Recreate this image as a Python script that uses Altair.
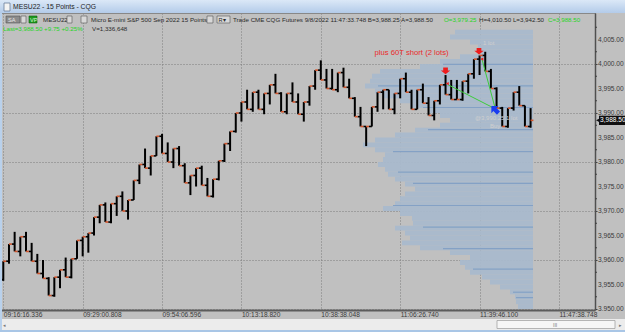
import altair as alt
import pandas as pd

# ---------------- data ----------------
highs = [3959.75, 3963.25, 3965.75, 3964.75, 3965.75, 3963.5, 3961.25, 3960, 3956.5, 3956.5,
         3958, 3960.5, 3960.25, 3964, 3964.75, 3965.5, 3968.75, 3971.25, 3971.75, 3971.5,
         3973, 3974, 3972.25, 3976.25, 3979.5, 3982.75, 3981.25, 3985.25, 3985.75, 3984,
         3982.75, 3983.25, 3979.75, 3977.25, 3978.75, 3979.25, 3976.75, 3976.5, 3980.25, 3983.75,
         3986.25, 3990, 3992.25, 3994.75, 3994.25, 3994.75, 3994, 3995.75, 3998, 3994.25,
         3994, 3996.25, 3994, 3992.25, 3995.5, 3998.75, 4000.75, 3999, 3999, 3998.25,
         3999.25, 3997, 3993.25, 3991.25, 3987.25, 3991.25, 3994.25, 3994.75, 3994.75, 3994,
         3997, 3998.25, 3994.75, 3994.75, 3996, 3993.25, 3992.5, 3995.75, 3997.75, 3996.75,
         3996.75, 3996.5, 3998, 4001, 4001.75, 4002.5, 3999, 3995.25, 3991.25, 3991,
         3994.25, 3995.5, 3991.5, 3991]
lows = [3955.75, 3959.25, 3961.75, 3960.75, 3961.75, 3959.75, 3957.25, 3956.25, 3952.75, 3952.5,
        3954.25, 3956.5, 3956.25, 3960.25, 3960.75, 3961.5, 3965, 3967.5, 3967.75, 3967.5,
        3969, 3970, 3968.25, 3972.25, 3975.5, 3978.75, 3977.25, 3981.25, 3981.75, 3980,
        3978.75, 3979.25, 3975.75, 3973.25, 3975, 3975.25, 3973, 3972.75, 3976.25, 3980,
        3982.25, 3986, 3988.25, 3990.75, 3990.25, 3990.75, 3989.75, 3991.75, 3994, 3990.25,
        3989.75, 3992.25, 3989.75, 3988.25, 3991.5, 3994.75, 3996.75, 3995, 3994.75, 3994.25,
        3995.25, 3993, 3989.25, 3987.25, 3983.25, 3987.25, 3990.25, 3990.75, 3990.75, 3989.75,
        3993, 3994.25, 3990.75, 3990.75, 3992, 3989.5, 3988.5, 3991.75, 3993.75, 3992.75,
        3992.75, 3992.5, 3994, 3997, 3997.75, 3998.5, 3995, 3991, 3987.25, 3987,
        3990.5, 3991.5, 3987.25, 3987]
opens = [3956, 3959.75, 3963.25, 3961.75, 3964.75, 3961.75, 3959.75, 3957.25, 3956.25, 3952.75,
         3956.5, 3958, 3956.5, 3960.25, 3964, 3964.75, 3965.5, 3968.75, 3971.25, 3967.75,
         3971.5, 3973, 3970, 3972.25, 3976.25, 3979.5, 3978.75, 3981.25, 3985.25, 3981.75,
         3980, 3982.75, 3979.25, 3975.75, 3977.25, 3978.75, 3975.25, 3973, 3976.5, 3980.25,
         3983.75, 3986.25, 3990, 3992.25, 3990.75, 3994.25, 3990.75, 3994, 3995.75, 3994,
         3990.25, 3994, 3992.25, 3989.75, 3992.25, 3995.5, 3998.75, 3996.75, 3995, 3994.75,
         3998.25, 3995.25, 3993, 3989.25, 3987.25, 3987.25, 3991.25, 3994.25, 3994.75, 3990.75,
         3994, 3997, 3994.25, 3990.75, 3994.75, 3992, 3989.5, 3992.5, 3995.75, 3993.75,
         3992.75, 3992.75, 3996.5, 3998, 4001, 4001.75, 3998.5, 3995, 3991, 3987.25,
         3991, 3994.25, 3991.5, 3987.25]
closes = [3959.75, 3963.25, 3961.75, 3964.75, 3961.75, 3959.75, 3957.25, 3956.25, 3952.75, 3956.5,
          3958, 3956.5, 3960.25, 3964, 3964.75, 3965.5, 3968.75, 3971.25, 3967.75, 3971.5,
          3973, 3970, 3972.25, 3976.25, 3979.5, 3978.75, 3981.25, 3985.25, 3981.75, 3980,
          3982.75, 3979.25, 3975.75, 3977.25, 3978.75, 3975.25, 3973, 3976.5, 3980.25, 3983.75,
          3986.25, 3990, 3992.25, 3990.75, 3994.25, 3990.75, 3994, 3995.75, 3994, 3990.25,
          3994, 3992.25, 3989.75, 3992.25, 3995.5, 3998.75, 3996.75, 3995, 3994.75, 3998.25,
          3995.25, 3993, 3989.25, 3987.25, 3987.25, 3991.25, 3994.25, 3994.75, 3990.75, 3994,
          3997, 3994.25, 3990.75, 3994.75, 3992, 3989.5, 3992.5, 3995.75, 3993.75, 3992.75,
          3992.75, 3996.5, 3998, 4001, 4001.75, 3998.5, 3995, 3991, 3987.25, 3991,
          3994.25, 3991.5, 3987.25, 3988.5]

# volume profile (price row start, relative volume)
prof_price = [3950, 3951, 3952, 3953, 3954, 3955, 3956, 3957, 3958, 3959,
              3960, 3961, 3962, 3963, 3964, 3965, 3966, 3967, 3968, 3969,
              3970, 3971, 3972, 3973, 3974, 3975, 3976, 3977, 3978, 3979,
              3980, 3981, 3982, 3983, 3984, 3985, 3986, 3987, 3988, 3989,
              3990, 3991, 3992, 3993, 3994, 3995, 3996, 3997, 3998, 3999,
              4000, 4001, 4002, 4003, 4004, 4005, 4006]
prof_vol = [1500, 1700, 1800, 2300, 3300, 4300, 5100, 6300, 6800, 7300,
            6300, 8300, 11300, 13100, 12300, 12800, 13800, 12000, 12100, 13300,
            15000, 13800, 13300, 12800, 11800, 12800, 13800, 14500, 14800, 15500,
            15000, 14800, 15800, 17000, 15800, 13800, 11800, 9300, 8300, 9300,
            10300, 12300, 13300, 15000, 15800, 16800, 16300, 16100, 15300, 11300,
            9300, 7300, 5500, 5500, 6300, 8300, 7800]
# darker highlighted profile rows (price, relative volume)
dark_price = [3952.2, 3953.3, 3958.0, 3962.2, 3966.6, 3971.0, 3975.5, 3977.8, 3982.0, 3986.5, 3991.0, 3995.4, 3999.8]
dark_vol = [1700, 2000, 6000, 9000, 11000, 14000, 12000, 13500, 14000, 10500, 11000, 15500, 9000]

x_tick_idx = [0, 14, 28, 42, 56, 70, 84, 98]
x_tick_labels = ["09:16:16.336", "09:29:00.808", "09:54:06.596", "10:13:18.820",
                 "10:38:38.048", "11:06:26.740", "11:39:46.100", "11:47:38.748"]
y_ticks = [3950, 3955, 3960, 3965, 3970, 3975, 3980, 3985, 3990, 3995, 4000, 4005]
y_tick_labels = ["3,950.00", "3,955.00", "3,960.00", "3,965.00", "3,970.00", "3,975.00",
                 "3,980.00", "3,985.00", "3,990.00", "3,995.00", "4,000.00", "4,005.00"]
y_minor = [3952.5, 3957.5, 3962.5, 3967.5, 3972.5, 3977.5, 3982.5, 3987.5, 3992.5, 3997.5, 4002.5, 4007.5]

last_price = 3988.50
sells = pd.DataFrame({"i": [78.0, 83.9], "p": [3998.7, 4002.7]})
entries = pd.DataFrame({"i": [78.3, 84.4], "p": [3996.0, 4001.0]})
buys = pd.DataFrame({"i": [86.8], "p": [3990.6]})
links = pd.DataFrame({"i": [78.4, 86.7, 84.4, 86.7], "p": [3995.8, 3990.9, 4001.1, 3991.2],
                      "g": ["a", "a", "b", "b"]})

# ---------------- frame ----------------
W, H = 595, 297
FONT = "Liberation Sans"
XD = [-0.582, 104.36]
YD = [3949.8, 4010.41]

bars = pd.DataFrame({"i": list(range(len(highs))), "o": opens, "h": highs, "l": lows, "c": closes})
prof = pd.DataFrame({"p": prof_price, "v": prof_vol})
dark = pd.DataFrame({"p": dark_price, "v": dark_vol})
minor = pd.DataFrame({"p": y_minor})
ylabs = pd.DataFrame({"p": y_ticks, "t": y_tick_labels})
one = pd.DataFrame({"a": [0]})

xs = alt.Scale(domain=XD, nice=False, zero=False)
ys = alt.Scale(domain=YD, nice=False, zero=False)
vs = alt.Scale(domain=[0, 53300], range=[533, 0])

lab_arr = "[" + ",".join("'%s'" % s for s in x_tick_labels) + "]"
xaxis = alt.Axis(values=x_tick_idx, labelExpr=lab_arr + "[round(datum.value/14)]",
                 grid=True, gridDash=[1, 2], gridColor="#7d7d7d", gridWidth=1,
                 labelAlign="left", labelBaseline="top", labelFontSize=6.6, labelFont=FONT,
                 labelColor="#3a3a3a", labelPadding=1, labelOverlap=False, labelFlush=False,
                 ticks=False, domainColor="#5c5c5c", domainWidth=2, title=None)
yaxis = alt.Axis(orient="right", values=y_ticks, labels=False,
                 grid=True, gridDash=[1, 2], gridColor="#7d7d7d",
                 tickSize=2, tickColor="#404040", domainColor="#505050", domainWidth=1.5, title=None)

base = alt.Chart(bars)

axis_layer = alt.Chart(one).mark_point(opacity=0).encode(
    x=alt.X("xx:Q", scale=xs, axis=xaxis), y=alt.Y("yy:Q", scale=ys, axis=yaxis)
).transform_calculate(xx="0", yy="3990")

minor_ticks = alt.Chart(minor).mark_rule(color="#404040", strokeWidth=1).encode(
    x=alt.value(595), x2=alt.value(597), y=alt.Y("p:Q", scale=ys))
ylab_layer = alt.Chart(ylabs).mark_text(color="#3a3a3a", fontSize=6.6, font=FONT, align="left",
                                        baseline="middle").encode(
    x=alt.value(598), y=alt.Y("p:Q", scale=ys), text="t:N")

profile = alt.Chart(prof).mark_rect(color="#a9b9cc", opacity=0.95).encode(
    x=alt.X("v:Q", scale=vs, axis=None),
    x2=alt.X2(datum=0),
    y=alt.Y("p:Q", scale=ys),
    y2="p2:Q",
).transform_calculate(p2="datum.p + 1")

dark_rows = alt.Chart(dark).mark_rect(color="#7f9fc4", opacity=0.9).encode(
    x=alt.X("v:Q", scale=vs, axis=None),
    x2=alt.X2(datum=0),
    y=alt.Y("p:Q", scale=ys),
    y2="p2:Q",
).transform_calculate(p2="datum.p + 0.25")

hl = base.mark_rule(color="#000000", strokeWidth=2).encode(
    x=alt.X("i:Q", scale=xs), y=alt.Y("l:Q", scale=ys), y2="h:Q")
otick = base.mark_rule(color="#000000", strokeWidth=1.6).encode(
    x=alt.X("xl:Q", scale=xs), x2="i:Q", y=alt.Y("o:Q", scale=ys)
).transform_calculate(xl="datum.i - 0.5")
ctick = base.mark_rule(color="#d2532a", strokeWidth=1.6).encode(
    x=alt.X("i:Q", scale=xs), x2="xr:Q", y=alt.Y("c:Q", scale=ys)
).transform_calculate(xr="datum.i + 0.5")

green = alt.Chart(links).mark_line(color="#3ccc3c", strokeWidth=1).encode(
    x=alt.X("i:Q", scale=xs), y=alt.Y("p:Q", scale=ys), detail="g:N")
sell_m = alt.Chart(sells).mark_point(shape="M-1,-1.2L1,-1.2L1,0L2,0L0,1.6L-2,0L-1,0Z",
                                     filled=True, color="#ee1c1c", size=22, opacity=1).encode(
    x=alt.X("i:Q", scale=xs), y=alt.Y("p:Q", scale=ys))
entry_m = alt.Chart(entries).mark_point(shape="triangle-left", filled=True, color="#ee1c1c",
                                        size=12, opacity=1).encode(
    x=alt.X("i:Q", scale=xs), y=alt.Y("p:Q", scale=ys))
buy_m = alt.Chart(buys).mark_point(shape="M-1.6,-1.6L1.2,-1.6L0.4,-0.8L1.8,0.6L0.6,1.8L-0.8,0.4L-1.6,1.2Z",
                                   filled=True, color="#1a3cf0", size=26, opacity=1).encode(
    x=alt.X("i:Q", scale=xs), y=alt.Y("p:Q", scale=ys))

note = alt.Chart(one).mark_text(text="plus 60T short (2 lots)", color="#ea2a2a", fontSize=7.7,
                                font=FONT, align="center", baseline="middle").encode(
    x=alt.X("xi:Q", scale=xs), y=alt.Y("yp:Q", scale=ys)).transform_calculate(xi="72.0", yp="4002.3")

ghost1 = alt.Chart(one).mark_text(text="1 lot", color="#cfcfcf", fontSize=6, font=FONT,
                                  align="left").encode(x=alt.value(483), y=alt.value(43 - 13))
ghost2 = alt.Chart(one).mark_text(text="@3,990.25  1 lot", color="#cfcfcf", fontSize=6, font=FONT,
                                  align="left").encode(x=alt.value(475), y=alt.value(118 - 13))
ghost3 = alt.Chart(one).mark_text(text="Buy", color="#cfcfcf", fontSize=6, font=FONT,
                                  align="left").encode(x=alt.value(490), y=alt.value(126 - 13))

# price label on axis
plab_box = alt.Chart(one).mark_rect(color="#101010").encode(
    x=alt.value(599), x2=alt.value(625),
    y=alt.Y("a1:Q", scale=ys), y2="a2:Q").transform_calculate(a1=str(last_price - 0.95), a2=str(last_price + 0.95))
plab_arrow = alt.Chart(one).mark_point(shape="triangle-left", filled=True, color="#101010", size=20, opacity=1).encode(
    x=alt.value(598), y=alt.Y("a1:Q", scale=ys)).transform_calculate(a1=str(last_price))
plab_text = alt.Chart(one).mark_text(text="3,988.50", color="#ffffff", fontSize=6.6, font=FONT,
                                     align="left", baseline="middle").encode(
    x=alt.value(600), y=alt.Y("a1:Q", scale=ys)).transform_calculate(a1=str(last_price))


def rect(x1, y1, x2, y2, color, **kw):
    return alt.Chart(one).mark_rect(color=color, **kw).encode(
        x=alt.value(x1), x2=alt.value(x2), y=alt.value(y1 - 13), y2=alt.value(y2 - 13))


def txt(x, y, s, color="#2a2a2a", size=6.4, **kw):
    return alt.Chart(one).mark_text(text=s, color=color, fontSize=size, font=FONT, align="left",
                                    baseline="middle", **kw).encode(x=alt.value(x), y=alt.value(y - 13))


title_grad = alt.Gradient(gradient="linear", x1=0, x2=0, y1=0, y2=1,
                          stops=[alt.GradientStop(color="#dbe8f7", offset=0),
                                 alt.GradientStop(color="#b3cbe9", offset=1)])
titlebar = alt.Chart(one).mark_rect(fill=title_grad).encode(
    x=alt.value(0), x2=alt.value(625), y=alt.value(-13), y2=alt.value(0))

deco = [
    titlebar,
    rect(4, 3, 10, 11, "#f4f4f4", stroke="#6a7f99", strokeWidth=0.8),
    txt(13, 7, "MESU22 - 15 Points - CQG", color="#1e1e1e", size=6.8),
    # toolbar
    rect(6, 16, 20, 23, "#8c8c8c", stroke="#555555", strokeWidth=0.6),
    txt(8, 19.6, "SA", color="#e8e8e8", size=5.6),
    rect(21, 16, 26, 23, "#d8d8d8", stroke="#555555", strokeWidth=0.6),
    rect(29, 16, 37, 23, "#1f9a1f", stroke="#0d5e0d", strokeWidth=0.6),
    txt(30, 19.6, "VP", color="#d9f7d9", size=5.6),
    txt(43, 19.8, "MESU22", size=6.2),
    rect(67, 16, 72, 23, "#d8d8d8", stroke="#555555", strokeWidth=0.6),
    rect(81, 16, 87, 23, "#d8d8d8", stroke="#555555", strokeWidth=0.6),
    txt(91, 19.8, "Micro E-mini S&P 500 Sep 2022  15 Points", size=6.2),
    rect(207, 16, 213, 23, "#d8d8d8", stroke="#555555", strokeWidth=0.6),
    rect(217, 16, 230, 23, "#d8d8d8", stroke="#555555", strokeWidth=0.6),
    txt(218.5, 19.6, "R▾", size=5.6),
    txt(233, 19.8, "Trade  CME  CQG  Futures  9/8/2022  11:47:33.748  B=3,988.25  A=3,988.50", size=6.2),
    txt(444, 19.8, "O=3,979.25", color="#1fd51f", size=6.2),
    txt(479, 19.8, "H=4,010.50  L=3,942.50", size=6.2),
    txt(548, 19.8, "C=3,988.50", color="#1fd51f", size=6.2),
    txt(3, 29.3, "Last=3,988.50   +9.75   +0.25%", color="#1fd51f", size=6.2),
    txt(92, 29.3, "V=1,336,648", size=6.2),
    # bottom band, scrollbar, frame
    rect(600, 311, 625, 319, "#c0c0c0"),
    rect(0, 319, 625, 330, "#ececec"),
    rect(497, 320.5, 615, 328.5, "#f6f6f6", stroke="#9a9a9a", strokeWidth=0.7),
    txt(553, 324.5, "III", color="#777777", size=5),
    txt(3, 324.5, "◂", color="#777777", size=5),
    txt(619, 324.5, "▸", color="#777777", size=5),
    rect(0, 330, 625, 332, "#a9c6e6"),
    rect(0, 13, 2, 330, "#b9d1ec"),
]

layers = [axis_layer, minor_ticks, profile, dark_rows, hl, otick, ctick, green, entry_m, sell_m, buy_m, note,
          ghost1, ghost2, ghost3, ylab_layer, plab_box, plab_arrow, plab_text] + deco

chart = alt.layer(*layers).resolve_scale(x="independent").properties(
    width=W, height=H, background="#c0c0c0",
    padding={"left": 0, "top": 13, "right": 30, "bottom": 22},
    autosize=alt.AutoSizeParams(type="none"),
).configure_view(strokeWidth=0)

chart.save("out.html", embed_options={"renderer": "svg", "actions": False})
